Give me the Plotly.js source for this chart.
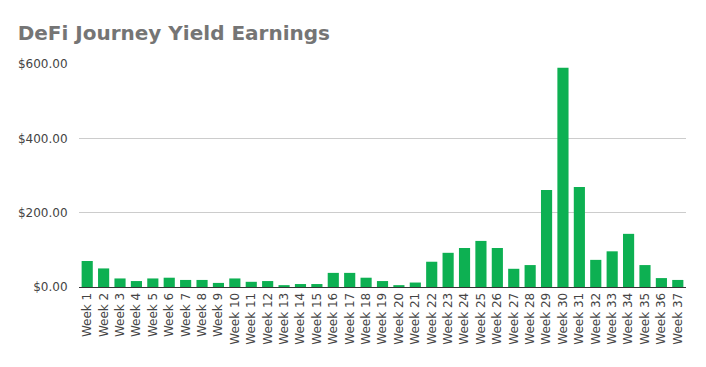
<!DOCTYPE html>
<html>
<head>
<meta charset="utf-8">
<script src="https://cdn.plot.ly/plotly-3.0.1.min.js"></script>
<style>html,body{margin:0;padding:0;background:#fff;}#chart{width:706px;height:367px;}</style>
</head>
<body>
<div id="chart"></div>
<script>
const weeks = ["Week 1","Week 2","Week 3","Week 4","Week 5","Week 6","Week 7","Week 8","Week 9","Week 10",
  "Week 11","Week 12","Week 13","Week 14","Week 15","Week 16","Week 17","Week 18","Week 19","Week 20",
  "Week 21","Week 22","Week 23","Week 24","Week 25","Week 26","Week 27","Week 28","Week 29","Week 30",
  "Week 31","Week 32","Week 33","Week 34","Week 35","Week 36","Week 37"];
const earnings = [70, 50, 23, 16, 23, 25, 19, 19, 11, 23,
  14, 16, 5, 8, 8, 38, 38, 25, 16, 5,
  12, 68, 92, 105, 124, 105, 49, 59, 261, 590,
  269, 73, 96, 143, 59, 24, 19];
const yTicks = [0, 200, 400, 600];
const yTickText = ["$0.00", "$200.00", "$400.00", "$600.00"];

Plotly.newPlot("chart", [{
  type: "bar",
  x: weeks,
  y: earnings,
  marker: {color: "#0db052"},
  hoverinfo: "x+y"
}], {
  width: 706, height: 367,
  margin: {l: 79, r: 20, t: 64, b: 80, pad: 0},
  paper_bgcolor: "#ffffff",
  plot_bgcolor: "#ffffff",
  bargap: 0.32,
  title: {text: "<b>DeFi Journey Yield Earnings</b>", x: 0.025, xanchor: "left", y: 0.91, yanchor: "middle",
    font: {family: "DejaVu Sans, Verdana, sans-serif", size: 20, color: "#757575"}},
  xaxis: {
    type: "category",
    tickangle: -90,
    tickfont: {family: "DejaVu Sans, sans-serif", size: 12, color: "#444444"},
    showgrid: false,
    showline: true, linecolor: "#333333", linewidth: 1,
    ticks: "", automargin: false
  },
  yaxis: {
    range: [0, 600],
    tickvals: yTicks, ticktext: yTickText,
    tickfont: {family: "DejaVu Sans, sans-serif", size: 12, color: "#444444"},
    gridcolor: "#cccccc", gridwidth: 1,
    zeroline: false, showline: false,
    ticks: "outside", ticklen: 8, tickcolor: "rgba(0,0,0,0)",
    automargin: false
  },
  showlegend: false
}, {displayModeBar: false, staticPlot: true});
</script>
</body>
</html>
